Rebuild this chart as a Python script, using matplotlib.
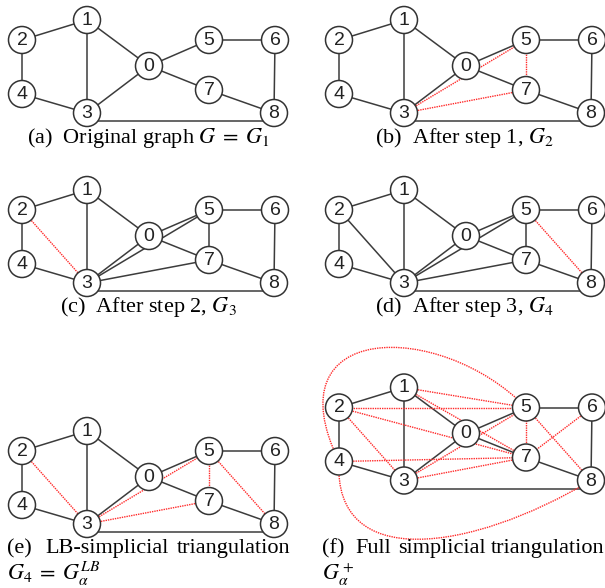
import matplotlib.pyplot as plt
from matplotlib.patches import Circle, PathPatch
from matplotlib.path import Path

plt.rcParams["mathtext.fontset"] = "stix"

# graph layout (same in every panel)
node_ids = ["0", "1", "2", "3", "4", "5", "6", "7", "8"]
node_x = [149, 87, 22, 87, 22, 209, 275, 209, 274]
node_y = [66, 20, 40, 113, 94, 40, 40, 90, 113]

base_edges = [("1", "2"), ("2", "4"), ("4", "3"), ("1", "3"), ("1", "0"), ("0", "3"),
              ("0", "5"), ("0", "7"), ("5", "6"), ("6", "8"), ("7", "8"), ("3", "8")]
step1_edges = [("3", "5"), ("3", "7"), ("5", "7")]
step2_edges = [("2", "3")]
step3_edges = [("5", "8")]
full_edges = [("1", "5"), ("1", "7"), ("2", "5"), ("2", "7"), ("2", "3"), ("4", "7"),
              ("3", "5"), ("3", "7"), ("5", "7"), ("5", "8"), ("6", "7")]
full_curved = [("4", "5"), ("4", "8")]

pos = {n: (x, y) for n, x, y in zip(node_ids, node_x, node_y)}

BLACK = "#3c3c3c"
RED = "#ff2a2a"

fig = plt.figure(figsize=(6.05, 5.88), dpi=100)
ax = fig.add_axes([0, 0, 1, 1])
ax.set_xlim(0, 605)
ax.set_ylim(588, 0)
ax.axis("off")


def edge_xy(a, b, dx, dy):
    (x1, y1), (x2, y2) = pos[a], pos[b]
    off = 8 if {a, b} == {"3", "8"} else 0
    return [x1 + dx, x2 + dx], [y1 + dy + off, y2 + dy + off]


def draw_panel(dx, dy, black, red, curved=()):
    for a, b in black:
        xs, ys = edge_xy(a, b, dx, dy)
        ax.plot(xs, ys, color=BLACK, lw=1.1, zorder=1, solid_capstyle="butt")
    for a, b in red:
        xs, ys = edge_xy(a, b, dx, dy)
        ax.plot(xs, ys, color=RED, lw=1.0, ls=(0, (1.0, 0.7)), zorder=1.5)
    for a, b in curved:
        x0, y0 = pos[a][0] + dx, pos[a][1] + dy
        x3, y3 = pos[b][0] + dx, pos[b][1] + dy
        if b == "5":
            c1, c2 = (x0 - 69, y0 - 141), (x3 - 86, y3 - 88)
        else:
            c1, c2 = (x0 - 6, y0 + 110), (x3 - 121, y3 + 72)
        path = Path([(x0, y0), c1, c2, (x3, y3)],
                    [Path.MOVETO, Path.CURVE4, Path.CURVE4, Path.CURVE4])
        ax.add_patch(PathPatch(path, fc="none", ec=RED, lw=1.0,
                               ls=(0, (1.0, 0.7)), zorder=1.5))
    for n in node_ids:
        x, y = pos[n][0] + dx, pos[n][1] + dy
        ax.add_patch(Circle((x, y), 13.5, fc="white", ec="#333333", lw=1.1, zorder=3))
        ax.text(x, y + 0.5, n, ha="center", va="center", fontsize=14,
                family="Liberation Sans", color="#222222", zorder=4)


cap = dict(family="Liberation Serif", fontsize=16, va="baseline", color="black")

# (a)
draw_panel(0, 0, base_edges, [])
ax.text(148, 143, r"(a)  Original graph $G\;=\;G_1$", ha="center", **cap)

# (b)
draw_panel(317, 0, base_edges, step1_edges)
ax.text(464, 143, r"(b)  After step 1, $G_2$", ha="center", **cap)

# (c)
draw_panel(0, 170, base_edges + step1_edges, step2_edges)
ax.text(148, 312, r"(c)  After step 2, $G_3$", ha="center", **cap)

# (d)
draw_panel(317, 170, base_edges + step1_edges + step2_edges, step3_edges)
ax.text(464, 312, r"(d)  After step 3, $G_4$", ha="center", **cap)

# (e)
draw_panel(0, 411, base_edges, step1_edges + step2_edges + step3_edges)
ax.text(7, 553, "(e)", ha="left", **cap)
ax.text(45, 553, "LB-simplicial", ha="left", **cap)
ax.text(290, 553, "triangulation", ha="right", **cap)
ax.text(7, 580, r"$G_4\;=\;G_\alpha^{LB}$", ha="left", **cap)

# (f)
draw_panel(317, 367.5, base_edges, full_edges, full_curved)
ax.text(322, 553, "(f)", ha="left", **cap)
ax.text(355, 553, "Full", ha="left", **cap)
ax.text(398, 553, "simplicial", ha="left", **cap)
ax.text(604, 553, "triangulation", ha="right", **cap)
ax.text(322, 580, r"$G_\alpha^+$", ha="left", **cap)

plt.savefig("out.png", dpi=100)
plt.close()
